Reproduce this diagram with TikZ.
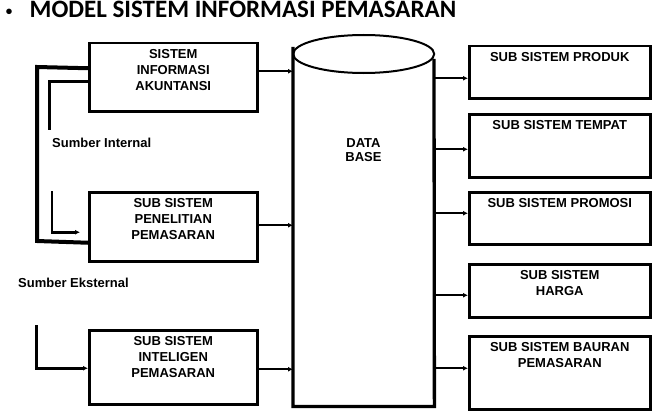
\documentclass[tikz,border=0pt]{standalone}
\usepackage{fontspec}
\setmainfont{Liberation Sans}
\newfontfamily\titlefont{Carlito}
\usetikzlibrary{arrows.meta}
\begin{document}
\begin{tikzpicture}[x=1pt,y=-1pt,
  box/.style={draw, line width=2.5pt, anchor=north west, inner sep=0pt, minimum width=#1},
  lbox/.style={box=168pt},
  rbox/.style={box=181pt},
  txt/.style={anchor=north, inner sep=0pt, align=center, font=\bfseries\fontsize{13}{16}\selectfont},
  lab/.style={anchor=west, inner sep=0pt, font=\bfseries\fontsize{13}{16}\selectfont},
  arr/.style={line width=2pt, -{Latex[length=5pt,width=5pt]}},
  feed/.style={line width=4pt},
  feedthin/.style={line width=3pt}]
\useasboundingbox (0,0) rectangle (652,412);
% title
\node[anchor=center, inner sep=0pt, font=\titlefont\bfseries\fontsize{13}{16}\selectfont] (bul) at (9,12) {\textbullet};
\node[anchor=base west, inner sep=0pt, font=\titlefont\bfseries\fontsize{25}{28}\selectfont] (title) at (29.5,18) {MODEL SISTEM INFORMASI PEMASARAN};
% left boxes
\node[lbox, minimum height=68pt] (sia) at (88,42) {};
\node[txt] (siat) at ([yshift=-7.5pt]sia.north) {SISTEM\\INFORMASI\\AKUNTANSI};
\node[lbox, minimum height=69pt] (pen) at (88,191) {};
\node[txt] (pent) at ([yshift=-7.5pt]pen.north) {SUB SISTEM\\PENELITIAN\\PEMASARAN};
\node[lbox, minimum height=74pt] (int) at (88,329) {};
\node[txt] (intt) at ([yshift=-7.5pt]int.north) {SUB SISTEM\\INTELIGEN\\PEMASARAN};
% database
\node[anchor=north west, inner sep=0pt, minimum width=141pt, minimum height=352pt] (db) at (293,54) {};
\draw[line width=2pt] (db.north) ellipse [x radius=70.5pt, y radius=19pt];
\draw[line width=3.3pt] (293,47) -- (db.south west) -- (db.south east) -- (434,59);
\node[txt, anchor=center, font=\bfseries\fontsize{13}{14}\selectfont] (dbt) at (363.5,150) {DATA\\BASE};
% right boxes
\node[rbox, minimum height=52pt] (prod) at (468,45) {};
\node[txt] (prodt) at ([yshift=-7.5pt]prod.north) {SUB SISTEM PRODUK};
\node[rbox, minimum height=63pt] (temp) at (468,113) {};
\node[txt] (tempt) at ([yshift=-7.5pt]temp.north) {SUB SISTEM TEMPAT};
\node[rbox, minimum height=52pt] (prom) at (468,191) {};
\node[txt] (promt) at ([yshift=-7.5pt]prom.north) {SUB SISTEM PROMOSI};
\node[rbox, minimum height=53pt] (harg) at (468,263) {};
\node[txt] (hargt) at ([yshift=-7.5pt]harg.north) {SUB SISTEM\\HARGA};
\node[rbox, minimum height=73pt] (baur) at (468,335) {};
\node[txt] (baurt) at ([yshift=-7.5pt]baur.north) {SUB SISTEM BAURAN\\PEMASARAN};
% labels
\node[lab] (si) at (52,143) {Sumber Internal};
\node[lab] (se) at (18,283) {Sumber Eksternal};
% left -> database
\coordinate (a1) at ([yshift=6pt]sia.east);
\draw[arr] (a1) -- (a1 -| db.west);
\coordinate (a2) at ([yshift=1.5pt]pen.east);
\draw[arr] (a2) -- (a2 -| db.west);
\coordinate (a3) at ([yshift=-2pt]int.east);
\draw[arr] (a3) -- (a3 -| db.west);
% database -> right
\coordinate (b1) at ([yshift=-6pt]prod.west);
\draw[arr] (b1 -| db.east) -- (b1);
\coordinate (b2) at ([yshift=-3.5pt]temp.west);
\draw[arr] (b2 -| db.east) -- (b2);
\coordinate (b3) at ([yshift=5pt]prom.west);
\draw[arr] (b3 -| db.east) -- (b3);
\coordinate (b4) at ([yshift=-4.5pt]harg.west);
\draw[arr] (b4 -| db.east) -- (b4);
\coordinate (b5) at ([yshift=4.5pt]baur.west);
\draw[arr] (b5 -| db.east) -- (b5);
% feed lines
\coordinate (f1) at ([yshift=9pt]sia.west);
\coordinate (f2) at ([yshift=-16pt]pen.west);
\draw[feed] (f1) -- (37,67) -- (37,241) -- (f2);
\coordinate (g1) at ([yshift=-4pt]sia.west);
\coordinate (g2) at (49,130);
\draw[feedthin] (g1) -| (g2);
\coordinate (h1) at (52,191);
\coordinate (h2) at ([yshift=-5.5pt,xshift=-8pt]pen.west);
\draw[arr, line width=2.5pt] (h1) |- (h2);
\coordinate (k1) at (36,325);
\coordinate (k2) at ([yshift=-1pt]int.west);
\draw[arr, line width=3pt] (k1) |- (k2);
\end{tikzpicture}
\end{document}
